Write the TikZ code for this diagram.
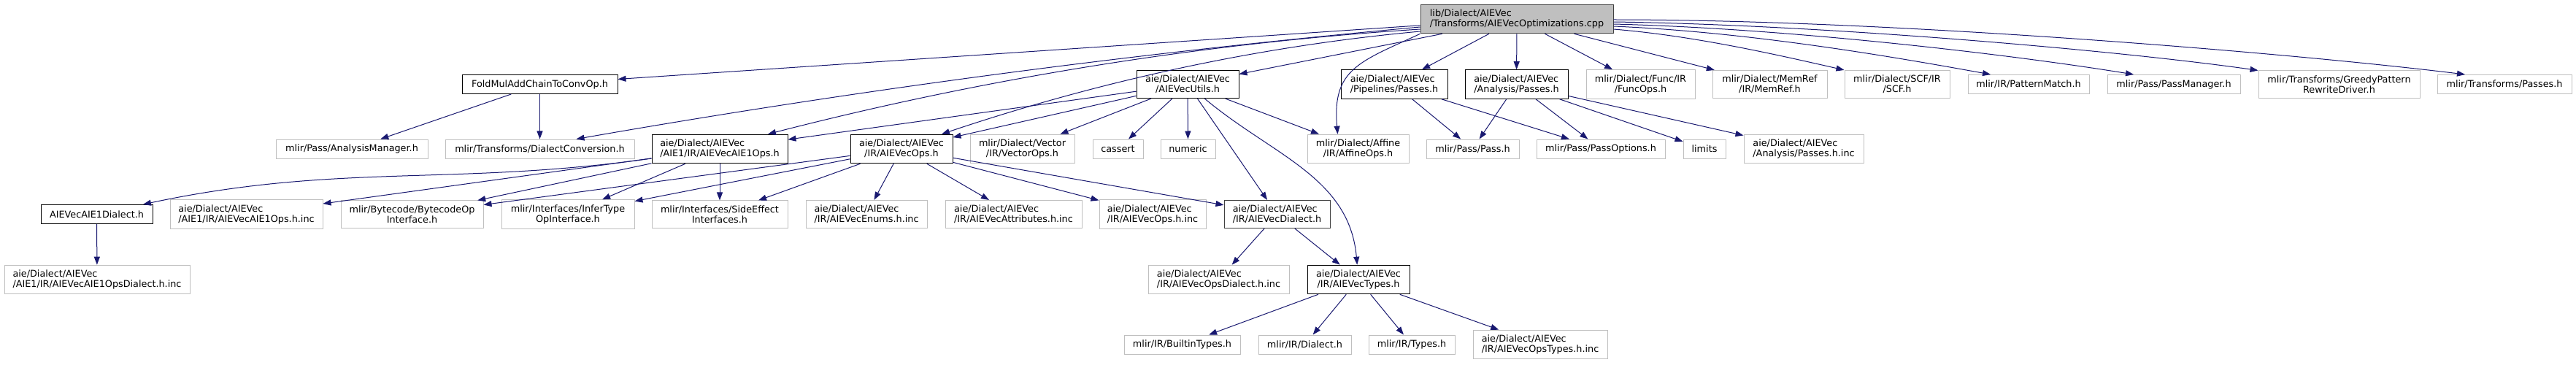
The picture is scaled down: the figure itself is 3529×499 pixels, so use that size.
\documentclass[tikz,border=0pt]{standalone}
\usepackage{fontspec}
\setmainfont{DejaVu Sans}
\usetikzlibrary{arrows.meta}

\definecolor{edgeblue}{RGB}{25,25,112}
\definecolor{leafgray}{RGB}{191,191,191}
\definecolor{rootgray}{RGB}{191,191,191}

\newsavebox\toplinebox
\newsavebox\botlinebox
\newlength\labelwd
% first line flush left, second line centred
\newcommand\twol[2]{%
  \sbox\toplinebox{#1}\sbox\botlinebox{#2}%
  \setlength\labelwd{\wd\toplinebox}%
  \ifdim\wd\botlinebox>\labelwd \setlength\labelwd{\wd\botlinebox}\fi
  \vbox{\hbox to\labelwd{\usebox\toplinebox\hfil}%
        \hbox to\labelwd{\hfil\usebox\botlinebox\hfil}}}

\begin{document}
\begin{tikzpicture}[
        x=1pt, y=1pt,
        font=\fontsize{12.8}{14}\selectfont,
        every node/.style={inner xsep=4pt, inner ysep=6.6pt, minimum height=26pt},
        filebox/.style={rectangle, draw=black, line width=1pt, fill=white},
        leafbox/.style={rectangle, draw=leafgray, line width=1pt, fill=white},
        rootbox/.style={rectangle, draw=black!75, line width=1pt, fill=rootgray},
        line/.style={draw=edgeblue, line width=1pt, -{Triangle[length=11pt,width=8pt]}}
    ]
        \useasboundingbox (0,0) rectangle (3529,499);

        % Nodes
        \node [rootbox, minimum width=264] (root) at (2078,473) {\twol{lib/Dialect/AIEVec}{/Transforms/AIEVecOptimizations.cpp}};

        \node [filebox, minimum width=213] (fold) at (739.5,383.5) {FoldMulAddChainToConvOp.h};
        \node [filebox, minimum width=140] (utils) at (1627,383.5) {\twol{aie/Dialect/AIEVec}{/AIEVecUtils.h}};
        \node [filebox, minimum width=146] (pipe) at (1910,383.5) {\twol{aie/Dialect/AIEVec}{/Pipelines/Passes.h}};
        \node [filebox, minimum width=141] (anpass) at (2077.5,383.5) {\twol{aie/Dialect/AIEVec}{/Analysis/Passes.h}};
        \node [leafbox, minimum width=149] (funcops) at (2247.5,383.5) {\twol{mlir/Dialect/Func/IR}{/FuncOps.h}};
        \node [leafbox, minimum width=157] (memref) at (2424.5,383.5) {\twol{mlir/Dialect/MemRef}{/IR/MemRef.h}};
        \node [leafbox, minimum width=144] (scf) at (2599,383.5) {\twol{mlir/Dialect/SCF/IR}{/SCF.h}};
        \node [leafbox, minimum width=166] (pmatch) at (2779,383.5) {mlir/IR/PatternMatch.h};
        \node [leafbox, minimum width=182] (passmgr) at (2978,383.5) {mlir/Pass/PassManager.h};
        \node [leafbox, minimum width=221] (greedy) at (3204.5,383.5) {\twol{mlir/Transforms/GreedyPattern}{RewriteDriver.h}};
        \node [leafbox, minimum width=184] (tpasses) at (3431,383.5) {mlir/Transforms/Passes.h};

        \node [leafbox, minimum width=208] (anmgr) at (482,295) {mlir/Pass/AnalysisManager.h};
        \node [leafbox, minimum width=259] (dconv) at (739.5,295) {mlir/Transforms/DialectConversion.h};
        \node [filebox, minimum width=186] (aie1ops) at (986,295) {\twol{aie/Dialect/AIEVec}{/AIE1/IR/AIEVecAIE1Ops.h}};
        \node [filebox, minimum width=140] (vecops) at (1235,295) {\twol{aie/Dialect/AIEVec}{/IR/AIEVecOps.h}};
        \node [leafbox, minimum width=143] (vector) at (1400.5,295) {\twol{mlir/Dialect/Vector}{/IR/VectorOps.h}};
        \node [leafbox, minimum width=69] (cassert) at (1531.5,295) {cassert};
        \node [leafbox, minimum width=75] (numeric) at (1627.5,295) {numeric};
        \node [leafbox, minimum width=139] (affine) at (1860.5,295) {\twol{mlir/Dialect/Affine}{/IR/AffineOps.h}};
        \node [leafbox, minimum width=127] (pass) at (2017.5,295) {mlir/Pass/Pass.h};
        \node [leafbox, minimum width=176] (passopt) at (2193,295) {mlir/Pass/PassOptions.h};
        \node [leafbox, minimum width=58] (limits) at (2335,295) {limits};
        \node [leafbox, minimum width=164] (anpassinc) at (2471,295) {\twol{aie/Dialect/AIEVec}{/Analysis/Passes.h.inc}};

        \node [filebox, minimum width=153] (aie1dial) at (132.5,205.5) {AIEVecAIE1Dialect.h};
        \node [leafbox, minimum width=209] (aie1inc) at (337.5,205.5) {\twol{aie/Dialect/AIEVec}{/AIE1/IR/AIEVecAIE1Ops.h.inc}};
        \node [leafbox, minimum width=195] (bytecode) at (564.5,205.5) {\twol{mlir/Bytecode/BytecodeOp}{Interface.h}};
        \node [leafbox, minimum width=182] (infer) at (778,205.5) {\twol{mlir/Interfaces/InferType}{OpInterface.h}};
        \node [leafbox, minimum width=186] (sideeff) at (986,205.5) {\twol{mlir/Interfaces/SideEffect}{Interfaces.h}};
        \node [leafbox, minimum width=166] (enums) at (1187,205.5) {\twol{aie/Dialect/AIEVec}{/IR/AIEVecEnums.h.inc}};
        \node [leafbox, minimum width=187] (attrs) at (1388.5,205.5) {\twol{aie/Dialect/AIEVec}{/IR/AIEVecAttributes.h.inc}};
        \node [leafbox, minimum width=146] (opsinc) at (1579,205.5) {\twol{aie/Dialect/AIEVec}{/IR/AIEVecOps.h.inc}};
        \node [rootbox, fill=white, minimum width=145] (vecdial) at (1749.5,205.5) {\twol{aie/Dialect/AIEVec}{/IR/AIEVecDialect.h}};

        \node [leafbox, minimum width=254] (aie1dinc) at (133,116) {\twol{aie/Dialect/AIEVec}{/AIE1/IR/AIEVecAIE1OpsDialect.h.inc}};
        \node [leafbox, minimum width=193] (opsdinc) at (1669.5,116) {\twol{aie/Dialect/AIEVec}{/IR/AIEVecOpsDialect.h.inc}};
        \node [filebox, minimum width=140] (types) at (1861,116) {\twol{aie/Dialect/AIEVec}{/IR/AIEVecTypes.h}};

        \node [leafbox, minimum width=159] (builtin) at (1619.5,27) {mlir/IR/BuiltinTypes.h};
        \node [leafbox, minimum width=127] (irdial) at (1787.5,27) {mlir/IR/Dialect.h};
        \node [leafbox, minimum width=118] (irtypes) at (1934,27) {mlir/IR/Types.h};
        \node [leafbox, minimum width=184] (typesinc) at (2110,27) {\twol{aie/Dialect/AIEVec}{/IR/AIEVecOpsTypes.h.inc}};

        % Paths
        \path [line] (root) -- (fold);
        \path [line] ([yshift=-11]root.west) .. controls (1560,427) and (1175,376) .. ([xshift=50]dconv.north);
        \path [line] ([yshift=-14]root.west) .. controls (1648,440) and (1350,392) .. ([xshift=66]aie1ops.north);
        \path [line] ([yshift=-17]root.west) .. controls (1727,436) and (1509,389) .. ([xshift=55]vecops.north);
        \path [line] (root) -- (utils);
        \path [line] (root.south west) to[out=205,in=95,looseness=1.3] ([xshift=-28]affine.north);
        \path [line] (root) -- (pipe);
        \path [line] (root) -- (anpass);
        \path [line] (root) -- (funcops);
        \path [line] (root) -- (memref);
        \path [line] ([yshift=-14]root.east) .. controls (2320,450) and (2430,425) .. (scf.north west);
        \path [line] ([yshift=-10]root.east) .. controls (2400,455) and (2600,420) .. ([xshift=-52]pmatch.north);
        \path [line] ([yshift=-7]root.east) .. controls (2450,460) and (2750,425) .. ([xshift=-55]passmgr.north);
        \path [line] ([yshift=-4]root.east) .. controls (2500,465) and (2900,430) .. (greedy.north west);
        \path [line] ([yshift=-1]root.east) .. controls (2600,472) and (3150,425) .. ([xshift=-54]tpasses.north);

        \path [line] (fold) -- (anmgr);
        \path [line] (fold) -- (dconv);

        \path [line] (utils) -- (aie1ops);
        \path [line] (utils) -- (vecops);
        \path [line] (utils) -- (vector);
        \path [line] (utils) -- (cassert);
        \path [line] (utils) -- (numeric);
        \path [line] (utils) -- (affine);
        \path [line] (utils) -- (vecdial);
        \path [line] (utils) to[out=-40,in=95] (types);

        \path [line] (pipe) -- (pass);
        \path [line] (pipe) -- (passopt);
        \path [line] (anpass) -- (pass);
        \path [line] (anpass) -- (passopt);
        \path [line] (anpass) -- (limits);
        \path [line] (anpass) -- (anpassinc);

        \path [line] (aie1ops) to[out=188,in=12] (aie1dial);
        \path [line] (aie1ops) -- (aie1inc);
        \path [line] (aie1ops) -- (bytecode);
        \path [line] (aie1ops) -- (infer);
        \path [line] (aie1ops) -- (sideeff);

        \path [line] (vecops) -- (bytecode);
        \path [line] (vecops) -- (infer);
        \path [line] (vecops) -- (sideeff);
        \path [line] (vecops) -- (enums);
        \path [line] (vecops) -- (attrs);
        \path [line] (vecops) -- (opsinc);
        \path [line] (vecops) -- (vecdial);

        \path [line] (aie1dial) -- (aie1dinc);
        \path [line] (vecdial) -- (opsdinc);
        \path [line] (vecdial) -- (types);

        \path [line] (types) -- (builtin);
        \path [line] (types) -- (irdial);
        \path [line] (types) -- (irtypes);
        \path [line] (types) -- (typesinc);
    \end{tikzpicture}
\end{document}
